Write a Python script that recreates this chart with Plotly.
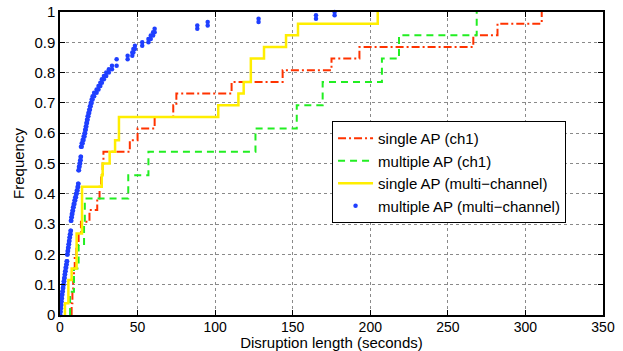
import numpy as np
import plotly.graph_objects as go

# Disruption lengths (seconds)
single_ap_ch1 = [7.5, 8, 8.5, 9, 9.5, 10.5, 12, 13.5, 19, 24, 25.5, 26.5, 27.5, 28,
                 45, 50, 61, 73, 75, 110.6, 143.5, 175, 193, 266.4, 282, 310.5]
multiple_ap_ch1 = [6.5, 9, 12, 15.5, 16, 44, 57, 126, 152.6, 169.3, 207.5, 218.5, 268.6]
single_ap_multi = [3.2, 5.4, 5.4, 7.5, 10.7, 10.7, 10.7, 14.2, 14.2, 14.2, 14.2, 26.9, 27.5,
                   32, 35.5, 38, 38, 102, 115, 118.4, 123, 123, 131.5, 145.7, 153.4, 204.8]
multiple_ap_multi = [0.2, 0.4, 0.6, 0.8, 1.0, 1.2, 1.5, 1.8, 2.1, 2.4, 2.7, 3.0, 3.3, 3.6, 4.0, 4.3,
                     4.6, 4.6, 4.9, 5.2, 5.5, 5.8, 6.1, 6.4, 6.8, 7.0, 7.0, 7.0,
                     7.3, 7.6, 8.0, 8.4, 8.8, 9.3, 9.8, 10.3, 10.8, 11.3, 11.7,
                     11.9, 11.9, 11.9, 11.9, 12.2, 12.6, 13.0, 13.3, 13.5, 13.5, 13.5,
                     14.0, 14.6, 15.2, 15.8, 16.2, 16.6, 17.0, 17.4, 17.8, 18.3, 18.8, 19.3, 19.8, 20.4,
                     21, 22, 23.6, 24.8, 26, 27, 28.3, 29.8, 31.5, 33.5, 36.5, 36.5, 43.6,
                     46.6, 47.3, 48.3, 53, 57, 58.5, 60, 61, 88.5, 95.2, 128, 165, 177]

x_ticks = [0, 50, 100, 150, 200, 250, 300, 350]
y_ticks = [0, 0.1, 0.2, 0.3, 0.4, 0.5, 0.6, 0.7, 0.8, 0.9, 1]
y_tick_labels = ["0", "0.1", "0.2", "0.3", "0.4", "0.5", "0.6", "0.7", "0.8", "0.9", "1"]

FONT = "Liberation Sans, Arial, Helvetica, sans-serif"


def ecdf_steps(values):
    v = np.sort(np.asarray(values, dtype=float))
    n = len(v)
    y = np.arange(1, n + 1) / n
    return np.concatenate([[v[0]], v]), np.concatenate([[0.0], y])


def ecdf_points(values):
    v = np.sort(np.asarray(values, dtype=float))
    n = len(v)
    u = np.unique(v)
    below = np.array([(v < t).sum() for t in u]) / n
    upto = np.array([(v <= t).sum() for t in u]) / n
    xs = np.repeat(u, 2)
    ys = np.empty(2 * len(u))
    ys[0::2] = below
    ys[1::2] = upto
    return xs, ys


fig = go.Figure()

x, y = ecdf_steps(single_ap_ch1)
fig.add_trace(go.Scatter(x=x, y=y, mode="lines", line_shape="hv", name="single AP (ch1)",
                         line=dict(color="#ff3300", width=2, dash="8px,3px,2px,3px")))
x, y = ecdf_steps(multiple_ap_ch1)
fig.add_trace(go.Scatter(x=x, y=y, mode="lines", line_shape="hv", name="multiple AP (ch1)",
                         line=dict(color="#22ee22", width=2, dash="7px,5px")))
x, y = ecdf_steps(single_ap_multi)
fig.add_trace(go.Scatter(x=x, y=y, mode="lines", line_shape="hv", name="single AP (multi\u2212channel)",
                         line=dict(color="#ffee00", width=2.5)))
x, y = ecdf_points(multiple_ap_multi)
fig.add_trace(go.Scatter(x=x, y=y, mode="markers", name="multiple AP (multi\u2212channel)",
                         marker=dict(color="#1f3fff", size=4.5), cliponaxis=False))

axis_common = dict(showline=True, linecolor="black", linewidth=1.5, mirror="ticks",
                   ticks="inside", ticklen=5, tickcolor="black",
                   showgrid=True, gridcolor="#8a8a8a", griddash="dot", gridwidth=1,
                   zeroline=False)

fig.update_xaxes(range=[0, 350], tickvals=x_ticks, ticktext=[str(t) for t in x_ticks],
                 tickfont=dict(family=FONT, size=14, color="black"), ticklabelstandoff=-2,
                 title=dict(text="Disruption length (seconds)", standoff=5,
                            font=dict(family=FONT, size=15, color="black")),
                 **axis_common)
fig.update_yaxes(range=[0, 1], tickvals=y_ticks, ticktext=y_tick_labels,
                 tickfont=dict(family=FONT, size=15, color="black"),
                 title=dict(text="Frequency", standoff=6,
                            font=dict(family=FONT, size=15, color="black")),
                 **axis_common)

fig.update_layout(
    width=623, height=351,
    margin=dict(l=60, r=20, t=12, b=36, autoexpand=False),
    paper_bgcolor="white", plot_bgcolor="white",
    showlegend=True,
    legend=dict(x=0.501, y=0.64, xanchor="left", yanchor="top",
                bgcolor="white", bordercolor="black", borderwidth=1,
                font=dict(family=FONT, size=15, color="black"),
                itemwidth=35, tracegroupgap=0),
)

fig.write_html("out.html", config={"displayModeBar": False},
               post_script="document.body.style.margin='0';")
